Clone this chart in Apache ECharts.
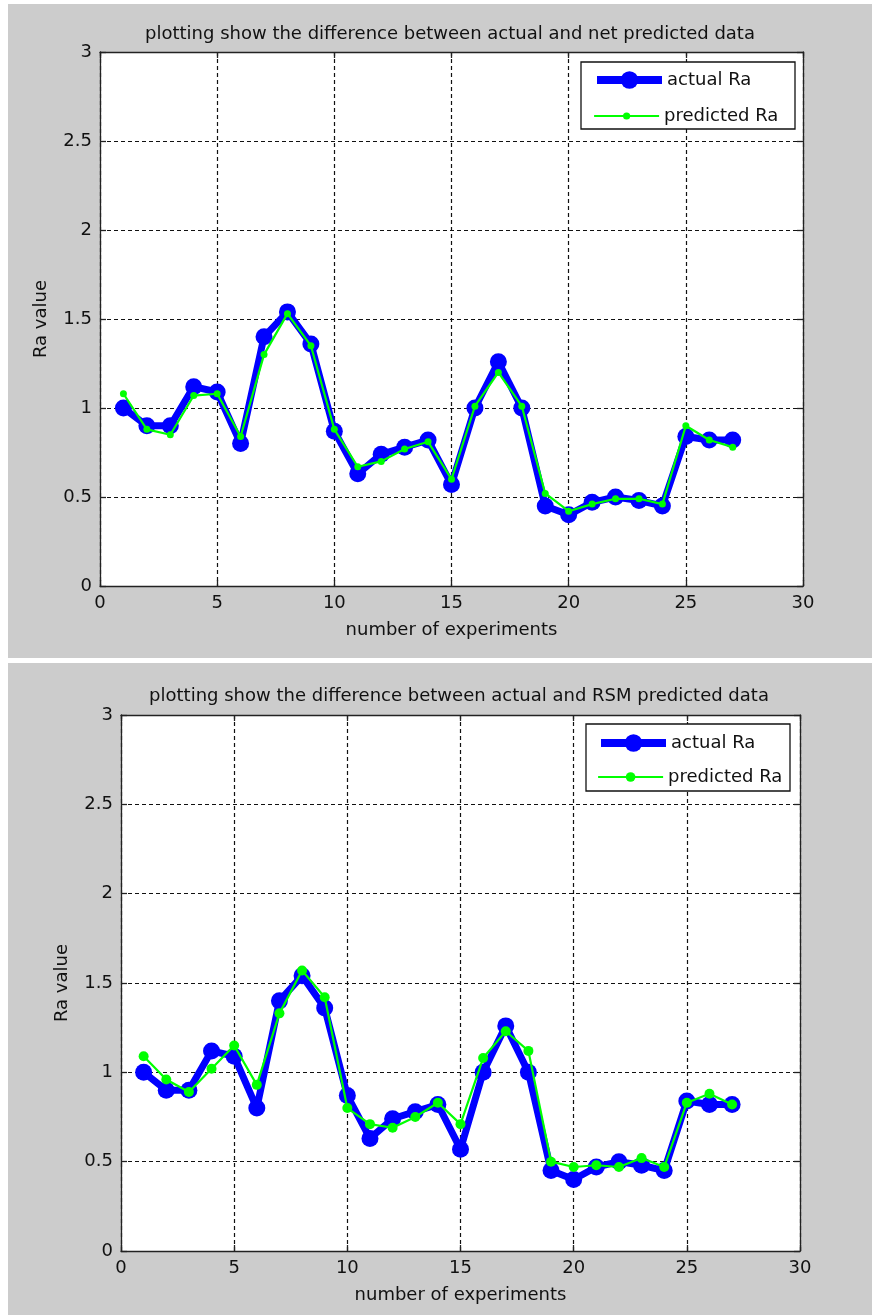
<!DOCTYPE html>
<html>
<head>
<meta charset="utf-8">
<script src="https://cdn.jsdelivr.net/npm/echarts@6/dist/echarts.min.js"></script>
<style>
html,body{margin:0;padding:0;background:#fff;}
#chart{width:872px;height:1315px;}
</style>
</head>
<body>
<div id="chart"></div>
<script>
// ---- data ----
var experiments = [1,2,3,4,5,6,7,8,9,10,11,12,13,14,15,16,17,18,19,20,21,22,23,24,25,26,27];
var actualRa = [1.00,0.90,0.90,1.12,1.09,0.80,1.40,1.54,1.36,0.87,0.63,0.74,0.78,0.82,0.57,1.00,1.26,1.00,0.45,0.40,0.47,0.50,0.48,0.45,0.84,0.82,0.82];
var netPredictedRa = [1.08,0.88,0.85,1.07,1.08,0.84,1.30,1.53,1.35,0.88,0.67,0.70,0.77,0.81,0.60,1.01,1.20,1.01,0.52,0.42,0.46,0.49,0.49,0.46,0.90,0.82,0.78];
var rsmPredictedRa = [1.09,0.96,0.89,1.02,1.15,0.93,1.33,1.57,1.42,0.80,0.71,0.69,0.75,0.83,0.71,1.08,1.23,1.12,0.50,0.47,0.48,0.47,0.52,0.47,0.83,0.88,0.82];
var titles = ['plotting show the difference between actual and net predicted data',
              'plotting show the difference between actual and RSM predicted data'];
var xAxisName = 'number of experiments';
var yAxisName = 'Ra value';
var seriesNames = ['actual Ra', 'predicted Ra'];

function pairs(ys){ return experiments.map(function(x,i){ return [x, ys[i]]; }); }

var FONT = 'DejaVu Sans';
var TXT = '#111';
var FS = 18;

var panels = [
  {grid:{left:100, top:52, width:703, height:534}, pred:netPredictedRa, greenSym:7,
   legendBox:{x:581, y:62, w:214, h:67}, legendLeft:593, legendY1:71, legendY2:107, titleTop:20, titleX:445},
  {grid:{left:121, top:715, width:679, height:536}, pred:rsmPredictedRa, greenSym:10,
   legendBox:{x:586, y:724, w:204, h:67}, legendLeft:597, legendY1:734, legendY2:768, titleTop:682, titleX:454}
];

var option = {
  animation:false,
  backgroundColor:'#ffffff',
  textStyle:{fontFamily:FONT, color:TXT},
  title:[], grid:[], xAxis:[], yAxis:[], series:[], legend:[],
  graphic:[
    {type:'rect', shape:{x:8,y:4,width:864,height:654}, style:{fill:'#cccccc'}, z:-100, silent:true},
    {type:'rect', shape:{x:8,y:663,width:864,height:652}, style:{fill:'#cccccc'}, z:-100, silent:true}
  ]
};

panels.forEach(function(p, k){
  option.title.push({text:titles[k], left:p.titleX, top:p.titleTop, textAlign:'center',
    textStyle:{fontFamily:FONT, fontSize:FS, fontWeight:'normal', color:TXT}});
  option.grid.push({left:p.grid.left, top:p.grid.top, width:p.grid.width, height:p.grid.height,
    show:true, backgroundColor:'#ffffff', borderWidth:0});
  var axLine = {show:true, onZero:false, lineStyle:{color:'#222', width:1.3}};
  var tick = {show:true, inside:true, length:6, lineStyle:{color:'#222', width:1.3}};
  var split = {show:true, lineStyle:{color:'#111', type:[4,3], width:1.2}};
  option.xAxis.push({gridIndex:k, type:'value', min:0, max:30, interval:5, position:'bottom',
    axisLine:axLine, axisTick:tick, splitLine:split,
    axisLabel:{fontFamily:FONT, fontSize:FS, color:TXT, margin:8},
    name:xAxisName, nameLocation:'middle', nameGap:35,
    nameTextStyle:{fontFamily:FONT, fontSize:FS, color:TXT}});
  option.xAxis.push({gridIndex:k, type:'value', min:0, max:30, interval:5, position:'top',
    axisLine:axLine, axisTick:tick, splitLine:{show:false}, axisLabel:{show:false}});
  option.yAxis.push({gridIndex:k, type:'value', min:0, max:3, interval:0.5, position:'left',
    axisLine:axLine, axisTick:tick, splitLine:split,
    axisLabel:{fontFamily:FONT, fontSize:FS, color:TXT, margin:8},
    name:yAxisName, nameLocation:'middle', nameGap:50,
    nameTextStyle:{fontFamily:FONT, fontSize:FS, color:TXT}});
  option.yAxis.push({gridIndex:k, type:'value', min:0, max:3, interval:0.5, position:'right',
    axisLine:axLine, axisTick:tick, splitLine:{show:false}, axisLabel:{show:false}});

  var sid = 'p'+k;
  option.series.push({name:seriesNames[0], id:sid+'a', type:'line', xAxisIndex:2*k, yAxisIndex:2*k,
    data:pairs(actualRa), symbol:'circle', symbolSize:17, showAllSymbol:true,
    lineStyle:{color:'#0000ff', width:7}, itemStyle:{color:'#0000ff'}, z:2});
  option.series.push({name:seriesNames[1], id:sid+'b', type:'line', xAxisIndex:2*k, yAxisIndex:2*k,
    data:pairs(p.pred), symbol:'circle', symbolSize:p.greenSym, showAllSymbol:true,
    lineStyle:{color:'#00ff00', width:2.2}, itemStyle:{color:'#00ff00'}, z:3});

  option.graphic.push({type:'rect', shape:{x:p.legendBox.x, y:p.legendBox.y, width:p.legendBox.w, height:p.legendBox.h},
    style:{fill:'#ffffff', stroke:'#111', lineWidth:1.3}, z:5, silent:true});
  option.legend.push({data:[seriesNames[0]], left:p.legendLeft, top:p.legendY1, itemWidth:65, itemHeight:22,
    padding:0, lineStyle:{width:8}, z:6, selectedMode:false,
    textStyle:{fontFamily:FONT, fontSize:FS, color:TXT}});
  option.legend.push({data:[seriesNames[1]], left:p.legendLeft, top:p.legendY2, itemWidth:65, itemHeight:k===0?9:12,
    padding:0, lineStyle:{width:2.2}, z:6, selectedMode:false,
    textStyle:{fontFamily:FONT, fontSize:FS, color:TXT}});
});

var chart = echarts.init(document.getElementById('chart'), null, {renderer:'canvas'});
chart.setOption(option);
</script>
</body>
</html>
